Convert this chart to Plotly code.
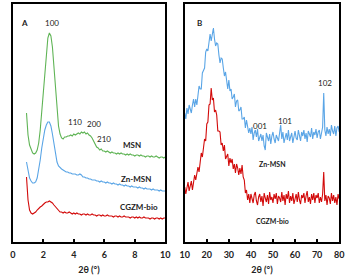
import numpy as np
import plotly.graph_objects as go

# ---------------- Panel A (low-angle) ----------------
a_msn = [129, 107, 97, 92, 89, 88, 89, 92, 99, 112,
         130, 152, 174, 192, 204, 209, 206, 195, 175, 150,
         130, 116, 108, 104, 103, 105, 105, 106, 106, 107,
         106, 108, 107, 108, 109, 108, 110, 109, 110, 108,
         109, 107, 106, 104, 101, 98, 95, 94, 92, 93,
         91, 91, 90, 91, 90, 89, 90, 89, 89, 88,
         89, 88, 89, 88, 88, 87, 88, 87, 88, 87,
         87, 86, 87, 87, 86, 87, 86, 86, 85, 86,
         86, 85, 86, 85, 85, 86, 85, 84, 85, 85,
         84, 85]
a_zn = [80, 70, 64, 61, 59, 59, 60, 64, 72, 82,
        94, 104, 112, 117, 120, 120, 116, 108, 97, 87,
        80, 76, 74, 73, 72, 71, 70, 70, 69, 69,
        68, 68, 68, 67, 67, 68, 67, 65, 65, 64,
        64, 63, 63, 62, 62, 62, 61, 61, 60, 61,
        60, 60, 59, 60, 59, 59, 58, 59, 58, 58,
        57, 58, 57, 57, 56, 57, 56, 56, 55, 56,
        55, 55, 55, 54, 55, 54, 54, 53, 54, 53,
        53, 53, 52, 53, 52, 52, 52, 51, 52, 51,
        51, 51]
a_cgzm = [65, 42, 32, 29, 28, 29, 30, 32, 34, 35,
          36, 38, 39, 40, 40, 41, 40, 39, 37, 35,
          33, 31, 30, 30, 29, 30, 29, 29, 30, 29,
          28, 29, 28, 29, 28, 28, 27, 28, 28, 27,
          28, 27, 27, 28, 27, 27, 26, 27, 27, 26,
          27, 26, 26, 27, 26, 26, 26, 25, 26, 26,
          25, 26, 25, 25, 26, 25, 25, 25, 24, 25,
          25, 24, 25, 24, 25, 24, 24, 25, 24, 24,
          24, 23, 24, 24, 23, 24, 24, 23, 24, 23,
          24, 24]
a_x = np.linspace(0.9, 10.0, len(a_msn))

# ---------------- Panel B (wide-angle) ----------------
b_zn = [129, 123, 134, 128, 137, 132, 129, 137, 143, 135,
        143, 137, 150, 156, 153, 153, 169, 171, 174, 190,
        193, 191, 199, 208, 201, 209, 214, 203, 196, 199,
        198, 187, 179, 184, 183, 174, 166, 170, 162, 153,
        162, 151, 153, 143, 145, 148, 135, 141, 142, 131,
        132, 135, 123, 123, 125, 114, 122, 117, 109, 114,
        108, 115, 102, 109, 112, 105, 113, 101, 106, 108,
        101, 107, 96, 92, 109, 105, 101, 108, 98, 106,
        110, 103, 99, 107, 104, 101, 109, 117, 103, 110,
        99, 106, 109, 102, 112, 101, 106, 109, 99, 108,
        111, 104, 102, 112, 107, 101, 110, 106, 112, 103,
        109, 100, 111, 107, 105, 114, 103, 110, 107, 113,
        104, 110, 112, 103, 109, 115, 149, 112, 106, 115,
        108, 113, 106, 117, 111, 108, 116, 106, 114, 116,
        110]
b_cgzm = [55, 48, 54, 60, 51, 55, 61, 52, 62, 67,
          62, 68, 75, 70, 81, 89, 85, 95, 103, 101,
          118, 120, 137, 138, 154, 142, 144, 130, 132, 127,
          111, 111, 110, 97, 99, 91, 97, 83, 86, 88,
          76, 84, 79, 83, 73, 78, 69, 78, 74, 67,
          74, 68, 77, 65, 62, 49, 52, 42, 48, 39,
          48, 43, 39, 47, 50, 41, 37, 45, 48, 40,
          46, 36, 49, 44, 40, 47, 38, 50, 42, 45,
          39, 48, 43, 49, 38, 46, 44, 40, 50, 41,
          47, 37, 48, 43, 51, 39, 46, 41, 49, 38,
          45, 48, 40, 50, 42, 38, 47, 44, 49, 39,
          46, 51, 40, 45, 38, 48, 42, 49, 39, 47,
          44, 49, 39, 45, 40, 48, 70, 41, 47, 37,
          46, 44, 38, 49, 41, 47, 39, 45, 37, 48,
          43]
b_x = np.linspace(10, 80, len(b_zn))

x_ticks_a = [0, 2, 4, 6, 8, 10]
x_ticks_b = [10, 20, 30, 40, 50, 60, 70, 80]

GREEN = "rgb(95,180,85)"
BLUE = "rgb(90,165,230)"
RED = "rgb(210,10,10)"
FONT = "Lato"

fig = go.Figure()
fig.add_trace(go.Scatter(x=a_x, y=a_cgzm, mode="lines", line=dict(color=RED, width=1.1), xaxis="x", yaxis="y"))
fig.add_trace(go.Scatter(x=a_x, y=a_zn, mode="lines", line=dict(color=BLUE, width=1.1), xaxis="x", yaxis="y"))
fig.add_trace(go.Scatter(x=a_x, y=a_msn, mode="lines", line=dict(color=GREEN, width=1.1), xaxis="x", yaxis="y"))
fig.add_trace(go.Scatter(x=b_x, y=b_cgzm, mode="lines", line=dict(color=RED, width=1.1), xaxis="x2", yaxis="y2"))
fig.add_trace(go.Scatter(x=b_x, y=b_zn, mode="lines", line=dict(color=BLUE, width=1.1), xaxis="x2", yaxis="y2"))

ann = []
def add(xr, yr, x, y, t, bold=False, size=8):
    ann.append(dict(xref=xr, yref=yr, x=x, y=y, text=(f"<b>{t}</b>" if bold else t),
                    showarrow=False, font=dict(family=FONT, size=size, color="#222")))

add("x", "y", 0.8, 219, "A", bold=True)
add("x", "y", 2.6, 219, "100")
add("x", "y", 4.1, 120, "110")
add("x", "y", 5.3, 118, "200")
add("x", "y", 6.0, 103, "210")
add("x", "y", 7.8, 97, "MSN", bold=True)
add("x", "y", 8.1, 63, "Zn-MSN", bold=True)
add("x", "y", 8.3, 35, "CGZM-bio", bold=True)
add("x2", "y2", 16.6, 219, "B", bold=True)
add("x2", "y2", 43.9, 116, "001")
add("x2", "y2", 55.3, 121, "101")
add("x2", "y2", 73.4, 159, "102")
add("x2", "y2", 49.6, 78, "Zn-MSN", bold=True, size=7)
add("x2", "y2", 49.6, 21, "CGZM-bio", bold=True, size=7)

ydom = [37 / 279, 275 / 279]
axis_common = dict(showline=True, mirror=True, linecolor="black", linewidth=1.5,
                   showgrid=False, zeroline=False)
xcommon = dict(axis_common, ticks="inside", ticklen=3, tickwidth=1.5, tickcolor="black",
               ticklabelstandoff=3,
               tickfont=dict(family=FONT, size=9, color="#222", weight="bold"),
               title=dict(text="<b>2θ (°)</b>", font=dict(family=FONT, size=9, color="#222"), standoff=8))

fig.update_layout(
    width=350, height=279, margin=dict(l=0, r=0, t=0, b=0),
    paper_bgcolor="white", plot_bgcolor="white", showlegend=False,
    xaxis=dict(xcommon, domain=[8 / 350, 165 / 350], range=[0, 10], tickvals=x_ticks_a),
    yaxis=dict(axis_common, domain=ydom, range=[0, 238], showticklabels=False, ticks=""),
    xaxis2=dict(xcommon, domain=[185 / 350, 344 / 350], range=[10, 80], tickvals=x_ticks_b, anchor="y2"),
    yaxis2=dict(axis_common, domain=ydom, range=[0, 238], showticklabels=False, ticks="", anchor="x2"),
    annotations=ann,
)
fig.write_html("out.html")
